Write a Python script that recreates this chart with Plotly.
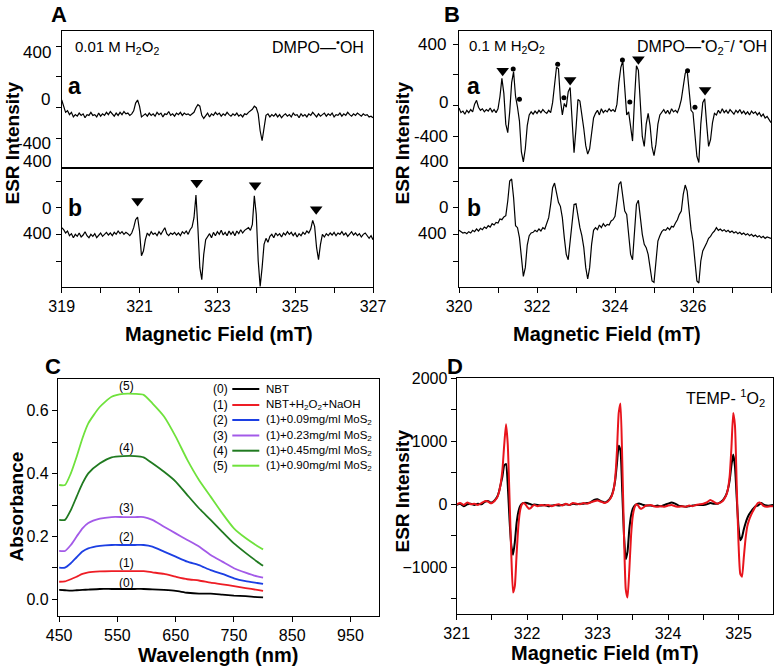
import plotly.graph_objects as go

W, H = 782, 670
FONT = "Liberation Sans, Arial, Helvetica, sans-serif"

# ---------------- data ----------------
# Panel A (0.01 M H2O2), field 319..327 mT sampled every 0.05 mT
a_field_start = 319.0
field_step = 0.05
a_a_intensity = [
    50, 10, -30, -20, -45, -30, -60, -45, -55, -35, -50, -40, -65, -45, -50, -30, -50, -45, -60, -35,
    -55, -40, -50, -30, -45, -25, -40, -55, -35, -50, -30, -45, -25, -40, -35, -50, -40, -20, 30, 50,
    10, -60, -50, -40, -55, -35, -50, -40, -55, -30, -45, -35, -60, -40, -45, -25, -50, -40, -55, -35,
    -45, -30, -50, -35, -45, -40, -50, -40, -30, 0, 20, 10, -50, -70, -50, -35, -60, -40, -50, -30,
    -45, -35, -55, -40, -50, -30, -45, -55, -40, -50, -35, -55, -45, -60, -40, -45, -30, -20, -10, 10,
    0, -40, -150, -215, -130, -50, -40, -60, -45, -55, -40, -60, -45, -65, -50, -40, -55, -45, -60, -35,
    -50, -45, -65, -40, -55, -45, -60, -40, -50, -30, -45, -60, -40, -55, -45, -35, -55, -40, -50, -35,
    -60, -45, -50, -35, -55, -40, -50, -30, -45, -55, -40, -50, -35, -45, -55, -40, -50, -45, -60, -55,
    -65]
a_b_intensity = [
    -300, -330, -380, -350, -420, -390, -450, -400, -430, -380, -440, -410, -360, -420, -450, -400, -430, -390, -450, -420,
    -380, -430, -400, -370, -410, -380, -420, -370, -400, -350, -390, -360, -400, -370, -390, -420, -380, -300, -180, -140,
    -350, -720, -650, -480, -380, -420, -360, -400, -380, -420, -360, -400, -350, -300, -390, -420, -380, -400, -370, -410,
    -380, -420, -360, -390, -350, -400, -330, -290, -150, 190, -300, -900, -1080, -700, -480, -430, -390, -450, -370, -420,
    -360, -400, -340, -410, -370, -420, -350, -400, -360, -420, -350, -390, -330, -380, -340, -320, -300, -340, -250, 180,
    -100, -800, -1180, -900, -550, -460, -520, -430, -400, -450, -380, -420, -390, -440, -380, -410, -360, -400, -370, -420,
    -380, -440, -390, -420, -370, -400, -350, -380, -320, -190, -280, -600, -780, -550, -400, -440, -390, -420, -380, -410,
    -370, -420, -380, -400, -360, -410, -380, -430, -390, -360, -410, -380, -420, -390, -440, -400, -380, -420, -460, -420,
    -480]
a_b_tri_field = [320.95, 322.47, 323.97, 325.54]
a_b_tri_value = [100, 375, 335, -25]

# Panel B (0.1 M H2O2), field 320..328 mT sampled every 0.05 mT
b_field_start = 320.0
b_a_intensity = [
    -15, -45, -35, -55, -30, -45, -25, -40, 10, 35, -10, -30, -20, -40, -25, -35, -15, -40, -25, -45,
    -20, 60, 178, 80, -120, -175, -40, 150, 221, 60, -10, -100, -300, -365, -280, -130, -60, -40, -55, -35,
    -50, -30, -45, -25, -40, -50, -30, -45, 20, 150, 250, 240, 40, -60, 15, -10, 90, 118, -100, -305,
    -150, 40, 30, -50, -150, -260, -315, -280, -170, -80, -50, -30, -60, -20, -45, -30, -40, -20, -35, -25,
    -40, 10, 150, 250, 291, 90, -60, -40, -150, -230, 40, 260, 230, 0, -200, -265, -120, -50, -130, -270,
    -325, -250, -120, -60, -40, -25, -50, -30, -55, -20, -40, -30, -45, -10, 40, 120, 210, 230, 100, -30,
    -45, -200, -330, -370, -120, 20, 45, -120, -265, -220, -110, -50, -60, -30, -50, -20, -45, -30, -50, -25,
    -40, -55, -30, -45, -25, -50, -35, -55, -40, -60, -35, -50, -40, -60, -45, -70, -55, -80, -70, -95,
    -110]
b_b_intensity = [
    -340, -360, -380, -370, -390, -360, -380, -340, -360, -320, -350, -310, -330, -290, -310, -270, -290, -240, -260, -220,
    -230, -170, -180, -140, -120, 100, 400, 430, 150, -270, -300, -450, -800, -1030, -900, -560, -420, -380, -370, -340,
    -360, -320, -350, -300, -320, -240, -150, 50, 300, 370, 200, 80, 20, -150, -450, -700, -780, -500, -150, 50,
    60, -150, -300, -420, -600, -900, -1070, -900, -550, -340, -300, -330, -260, -300, -240, -280, -250, -260, -200, -180,
    -130, 100, 350, 390, 150, -50, -100, -400, -700, -780, -400, 50, 110, -150, -400, -550, -600, -700, -900, -1100,
    -1120, -800, -500, -420, -360, -330, -340, -300, -330, -280, -290, -230, -180, -100, -50, 200, 340, 250, -100, -330,
    -500, -800, -1100, -1130, -800, -650, -600, -530, -460, -430, -380, -350, -300, -340, -320, -350, -330, -360, -340, -370,
    -350, -380, -360, -390, -370, -400, -380, -410, -390, -420, -400, -430, -410, -440, -420, -450, -430, -460, -440, -450,
    -460]
b_a_tri_field = [321.12, 322.85, 324.60, 326.31]
b_a_tri_value = [228, 167, 302, 102]
b_a_dot_field = [321.39, 321.55, 322.53, 322.69, 324.19, 324.38, 325.86, 326.05]
b_a_dot_value = [239, 42, 270, 52, 297, 24, 228, -10]

# Panel C (NBT absorbance)
c_wavelength = [450, 460, 470, 480, 490, 500, 520, 540, 560, 580, 595, 610, 630, 650, 670, 690, 710, 730, 750, 770, 790, 800]
c_abs_0 = [0.030, 0.029, 0.028, 0.029, 0.030, 0.031, 0.033, 0.033, 0.033, 0.033, 0.033, 0.032, 0.030, 0.027, 0.021, 0.018, 0.018, 0.015, 0.012, 0.010, 0.007, 0.006]
c_abs_1 = [0.056, 0.057, 0.064, 0.072, 0.081, 0.086, 0.089, 0.090, 0.090, 0.090, 0.090, 0.086, 0.081, 0.072, 0.064, 0.060, 0.053, 0.048, 0.042, 0.036, 0.030, 0.027]
c_abs_2 = [0.101, 0.101, 0.115, 0.134, 0.152, 0.162, 0.170, 0.173, 0.173, 0.173, 0.173, 0.168, 0.152, 0.136, 0.120, 0.109, 0.093, 0.081, 0.067, 0.058, 0.052, 0.049]
c_abs_3 = [0.154, 0.154, 0.173, 0.200, 0.226, 0.243, 0.257, 0.262, 0.262, 0.262, 0.262, 0.253, 0.231, 0.210, 0.189, 0.168, 0.141, 0.120, 0.099, 0.085, 0.073, 0.069]
c_abs_4 = [0.253, 0.253, 0.284, 0.327, 0.369, 0.401, 0.433, 0.452, 0.456, 0.456, 0.452, 0.433, 0.406, 0.375, 0.332, 0.290, 0.253, 0.215, 0.178, 0.148, 0.120, 0.107]
c_abs_5 = [0.364, 0.364, 0.401, 0.454, 0.513, 0.560, 0.613, 0.645, 0.654, 0.654, 0.651, 0.624, 0.582, 0.518, 0.444, 0.380, 0.327, 0.274, 0.226, 0.195, 0.170, 0.159]
c_tags = ["(0)", "(1)", "(2)", "(3)", "(4)", "(5)"]
c_legend_names = ["NBT", "NBT+H<sub>2</sub>O<sub>2</sub>+NaOH",
                  "(1)+0.09mg/ml MoS<sub>2</sub>", "(1)+0.23mg/ml MoS<sub>2</sub>",
                  "(1)+0.45mg/ml MoS<sub>2</sub>", "(1)+0.90mg/ml MoS<sub>2</sub>"]
c_tag_wavelength = 565
c_tag_abs = [0.053, 0.117, 0.200, 0.290, 0.481, 0.680]

# Panel D (TEMP-1O2)
d_field = [321.00, 321.05, 321.10, 321.15, 321.20, 321.25, 321.30, 321.35, 321.40,
           321.45, 321.475, 321.50, 321.525, 321.55, 321.575, 321.60, 321.625, 321.65, 321.675, 321.70,
           321.725, 321.75, 321.775, 321.80, 321.825, 321.85, 321.875, 321.90, 321.925, 321.95, 321.975,
           322.00, 322.025, 322.05, 322.075, 322.10,
           322.15, 322.20, 322.25, 322.30, 322.35, 322.40, 322.45, 322.50, 322.55, 322.60, 322.65, 322.70,
           322.75, 322.80, 322.85, 322.90, 322.95, 323.00, 323.05,
           323.075, 323.10, 323.125, 323.15, 323.175, 323.20, 323.225, 323.25, 323.275, 323.30, 323.325,
           323.35, 323.375, 323.40, 323.425, 323.45, 323.475, 323.50, 323.525, 323.55, 323.575, 323.60,
           323.625, 323.65, 323.675, 323.70,
           323.75, 323.80, 323.85, 323.90, 323.95, 324.00, 324.05, 324.10, 324.15, 324.20, 324.25, 324.30,
           324.35, 324.40, 324.45, 324.50, 324.55, 324.60, 324.65, 324.70,
           324.725, 324.75, 324.775, 324.80, 324.825, 324.85, 324.875, 324.90, 324.925, 324.95, 324.975,
           325.00, 325.025, 325.05, 325.075, 325.10, 325.125, 325.15, 325.175, 325.20, 325.225, 325.25,
           325.275, 325.30, 325.325, 325.35,
           325.40, 325.45, 325.50]
d_black = [-10, 10, -30, 0, 10, -10, 10, 0, 40,
           50, 30, 30, 50, 80, 120, 200, 320, 450, 620, 640, 300, -250, -650, -800, -600, -300, -120, -30, 10, 20, 25, 20, 10, 0, -10, -5,
           -10, -20, -10, -30, -20, -10, -20, -10, 0, -10, 10, 0, 10, 10, 20, 30, 70, 80, 50,
           40, 30, 40, 60, 90, 140, 230, 380, 650, 930, 850, 200, -500, -870, -750, -400, -180, -70, -20, 0, 10, 10, 0, -10, -20, -20,
           -20, -30, -20, -30, -10, 10, 30, 10, -20, -30, -40, -30, -20, -10, -10, -10, 0, 20, 10, 10,
           20, 40, 60, 100, 150, 240, 380, 620, 790, 600, 100, -350, -570, -520, -400, -300, -220, -160, -120, -80, -50, -30, -20, 0, 20, 0,
           -20, -20, -10]
d_red = [0, 20, -10, 30, 0, 10, -10, 20, 50,
         40, 20, 20, 40, 70, 110, 190, 330, 560, 950, 1270, 950, 100, -800, -1400, -1300, -800, -350, -100, 0, 20, 0, -40, -70, -60, -30, -10,
         -30, -10, -20, -10, -30, -10, 0, -20, 10, -10, 20, 10, 0, 20, 10, 30, 50, 60, 40,
         30, 20, 30, 50, 80, 130, 220, 420, 850, 1450, 1600, 700, -500, -1350, -1480, -1050, -500, -180, -50, 0, -20, -60, -70, -50, -30, -20,
         -10, -30, -40, -30, -40, -20, -10, -30, -40, -30, -40, -20, -30, -10, 0, 10, 30, 70, 40, 10,
         20, 30, 50, 90, 140, 240, 450, 900, 1450, 1250, 300, -600, -1100, -1150, -850, -550, -350, -250, -180, -120, -70, -20, 20, 30, 10, -20,
         -40, -30, -30]

# ---------------- derived sample positions ----------------
a_field = [round(a_field_start + field_step * i, 3) for i in range(len(a_a_intensity))]
b_field = [round(b_field_start + field_step * i, 3) for i in range(len(b_a_intensity))]

# ---------------- figure ----------------
def px(x):
    return x / W

def py(y):
    return 1 - y / H

fig = go.Figure()
esr_line = dict(color="black", width=1.2)
fig.add_trace(go.Scatter(x=a_field, y=a_a_intensity, mode="lines", line=esr_line, xaxis="x", yaxis="y"))
fig.add_trace(go.Scatter(x=a_field, y=a_b_intensity, mode="lines", line=esr_line, xaxis="x2", yaxis="y2"))
fig.add_trace(go.Scatter(x=a_b_tri_field, y=a_b_tri_value, mode="markers", cliponaxis=False,
                         marker=dict(symbol="triangle-down", size=11, color="black"), xaxis="x2", yaxis="y2"))
fig.add_trace(go.Scatter(x=b_field, y=b_a_intensity, mode="lines", line=esr_line, xaxis="x3", yaxis="y3"))
fig.add_trace(go.Scatter(x=b_a_tri_field, y=b_a_tri_value, mode="markers", cliponaxis=False,
                         marker=dict(symbol="triangle-down", size=11, color="black"), xaxis="x3", yaxis="y3"))
fig.add_trace(go.Scatter(x=b_a_dot_field, y=b_a_dot_value, mode="markers", cliponaxis=False,
                         marker=dict(symbol="circle", size=5, color="black"), xaxis="x3", yaxis="y3"))
fig.add_trace(go.Scatter(x=b_field, y=b_b_intensity, mode="lines", line=esr_line, xaxis="x4", yaxis="y4"))

c_colors = ["#000000", "#ee1d25", "#1c3fe3", "#a35ae8", "#207a20", "#6fe23c"]
c_series = [c_abs_0, c_abs_1, c_abs_2, c_abs_3, c_abs_4, c_abs_5]
for col, ser in zip(c_colors, c_series):
    fig.add_trace(go.Scatter(x=c_wavelength, y=ser, mode="lines", line=dict(color=col, width=1.8, shape="spline", smoothing=0.6),
                             xaxis="x5", yaxis="y5"))

fig.add_trace(go.Scatter(x=d_field, y=d_black, mode="lines", line=dict(color="black", width=2, shape="spline", smoothing=0.5),
                         xaxis="x6", yaxis="y6"))
fig.add_trace(go.Scatter(x=d_field, y=d_red, mode="lines", line=dict(color="#e8141c", width=2, shape="spline", smoothing=0.5),
                         xaxis="x6", yaxis="y6"))

tickfont = dict(family=FONT, size=16, color="black")
base = dict(showline=True, linecolor="black", linewidth=1.3, mirror=True, showgrid=False, zeroline=False,
            automargin=False, ticks="outside", ticklen=5, tickwidth=1.2, tickcolor="black", tickfont=tickfont)

def minor(vals):
    return dict(tickvals=vals, ticks="outside", ticklen=5, tickwidth=1.2, tickcolor="black")

ab_top = [py(167.5), py(31)]
ab_bot = [py(287), py(167.5)]
a_dom = [px(61.7), px(373)]
b_dom = [px(459), px(771)]

layout = dict(
    width=W, height=H, margin=dict(l=0, r=0, t=0, b=0, autoexpand=False), showlegend=False,
    paper_bgcolor="white", plot_bgcolor="white", font=dict(family=FONT, color="black"),
    xaxis=dict(base, domain=a_dom, range=[319, 327], anchor="y", ticks="", showticklabels=False),
    yaxis=dict(base, domain=ab_top, range=[-389, 499], anchor="x", tickvals=[400, 200, 0, -200], showticklabels=False),
    xaxis2=dict(base, domain=a_dom, range=[319, 327], anchor="y2", tickvals=[319, 321, 323, 325, 327],
                minor=minor([320, 322, 324, 326])),
    yaxis2=dict(base, domain=ab_bot, range=[-1190, 603], anchor="x2", tickvals=[400, 0, -400, -800], showticklabels=False),
    xaxis3=dict(base, domain=b_dom, range=[320, 328], anchor="y3", ticks="", showticklabels=False),
    yaxis3=dict(base, domain=ab_top, range=[-402, 486], anchor="x3", tickvals=[400, 200, 0, -200], showticklabels=False),
    xaxis4=dict(base, domain=b_dom, range=[320, 328], anchor="y4", tickvals=[320, 322, 324, 326, 328],
                minor=minor([321, 323, 325, 327])),
    yaxis4=dict(base, domain=ab_bot, range=[-1190, 603], anchor="x4", tickvals=[400, 0, -400, -800], showticklabels=False),
    xaxis5=dict(base, domain=[px(58), px(379)], range=[448, 999], anchor="y5", tickvals=[450, 550, 650, 750, 850, 950]),
    yaxis5=dict(base, domain=[py(616), py(378.5)], range=[-0.053, 0.703], anchor="x5", tickvals=[0, 0.2, 0.4, 0.6],
                ticktext=["0.0", "0.2", "0.4", "0.6"], minor=minor([0.1, 0.3, 0.5])),
    xaxis6=dict(base, domain=[px(456.7), px(773)], range=[321, 325.49], anchor="y6", tickvals=[321, 322, 323, 324, 325],
                minor=minor([321.5, 322.5, 323.5, 324.5, 325.5])),
    yaxis6=dict(base, domain=[py(614), py(378.3)], range=[-1741, 2000], anchor="x6", tickvals=[-1000, 0, 1000, 2000],
                minor=minor([-1500, -500, 500, 1500])),
)
fig.update_layout(**layout)

annotations = []

def ann(text, x, y, size=16, bold=False, xanchor="center", yanchor="middle", angle=0):
    t = "<b>%s</b>" % text if bold else text
    annotations.append(dict(text=t, x=px(x), y=py(y), xref="paper", yref="paper", showarrow=False,
                            xanchor=xanchor, yanchor=yanchor, textangle=angle,
                            font=dict(family=FONT, size=size, color="black")))

# panel letters
ann("A", 59, 15, 22, True)
ann("B", 452, 15, 22, True)
ann("C", 53, 366, 22, True)
ann("D", 455, 366, 22, True)
# axis titles
ann("ESR Intensity", 11.5, 143, 19, True, angle=-90)
ann("ESR Intensity", 401.5, 143, 19, True, angle=-90)
ann("ESR Intensity", 401.5, 491, 19, True, angle=-90)
ann("Absorbance", 15.5, 507, 19, True, angle=-90)
ann("Magnetic Field (mT)", 219, 334, 20, True)
ann("Magnetic Field (mT)", 607, 334, 20, True)
ann("Magnetic Field (mT)", 604.5, 653, 20, True)
ann("Wavelength (nm)", 218, 655, 20, True)
# inner texts
ann("0.01 M H<sub>2</sub>O<sub>2</sub>", 73, 47, 15, xanchor="left")
ann("DMPO—<sup>•</sup>OH", 366, 46, 16, xanchor="right")
ann("0.1 M H<sub>2</sub>O<sub>2</sub>", 467, 46, 15, xanchor="left")
ann("DMPO—<sup>•</sup>O<sub>2</sub><sup>−</sup>/ <sup>•</sup>OH", 769, 46, 16, xanchor="right")
ann("TEMP- <sup>1</sup>O<sub>2</sub>", 767, 398, 16, xanchor="right")
ann("a", 74, 86, 23, True)
ann("b", 75, 208, 23, True)
ann("a", 473.5, 86, 23, True)
ann("b", 474, 208, 23, True)
# custom y tick labels of panels A and B
for txt, xr, yc in [("400", 53, 53), ("0", 52, 100), ("-400", 53, 143), ("400", 53, 162), ("0", 53, 208), ("400", 53, 233),
                    ("400", 448, 45), ("0", 450, 102), ("-400", 450, 136), ("400", 450, 161), ("0", 450, 207), ("400", 448, 233)]:
    ann(txt, xr, yc, 17, xanchor="right")

# curve tags in C (data coordinates)
for tag, yv in zip(c_tags, c_tag_abs):
    annotations.append(dict(text=tag, x=c_tag_wavelength, y=yv, xref="x5", yref="y5", showarrow=False,
                            xanchor="center", yanchor="middle", font=dict(family=FONT, size=12, color="black")))

# manual legend in C
shapes = []
legend_rows = [389, 405, 420, 435.5, 450.7, 465.7]
for tag, name, col, yr in zip(c_tags, c_legend_names, c_colors, legend_rows):
    ann(tag, 230, yr, 12, xanchor="right")
    ann(name, 264, yr, 11.5, xanchor="left")
    shapes.append(dict(type="line", xref="paper", yref="paper", x0=px(232.3), x1=px(259.3), y0=py(yr), y1=py(yr),
                       line=dict(color=col, width=2)))

fig.update_layout(annotations=annotations, shapes=shapes)
fig.write_html("out.html", config={"displayModeBar": False},
               post_script="document.body.style.margin='0px';document.body.style.overflow='hidden';")
